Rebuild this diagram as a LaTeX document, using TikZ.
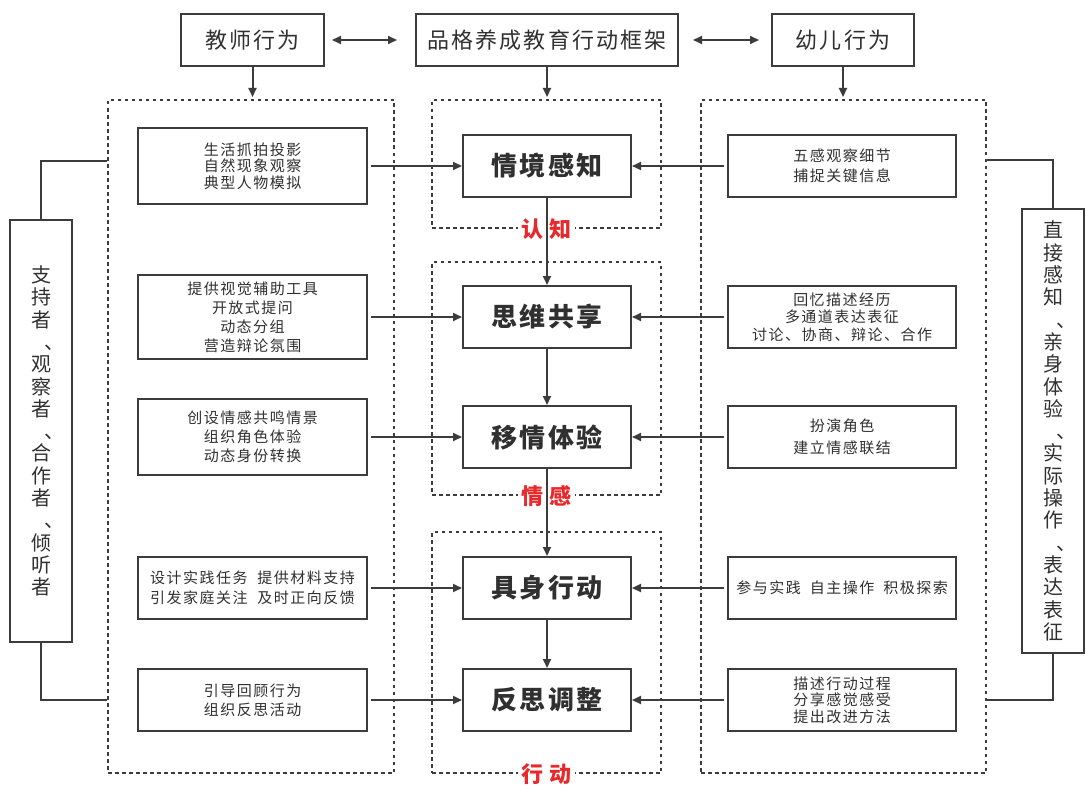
\documentclass[tikz,border=0pt]{standalone}
\usepackage{fontspec}
\setmainfont{Noto Sans CJK SC}[LetterSpace=10]
\newfontfamily\labfont{Noto Sans CJK SC}[LetterSpace=30]
\usetikzlibrary{arrows.meta,positioning}
\definecolor{boxline}{HTML}{3C3C3C}
\definecolor{boxtext}{HTML}{303030}
\definecolor{stagered}{HTML}{E8282B}
\newcommand{\vdun}{\makebox[1em][l]{\hspace{0.65em}、}}

\begin{document}
\begin{tikzpicture}[x=1pt,y=-1pt,
    box/.style={draw=boxline,line width=2pt,inner sep=0pt,align=center,text=boxtext},
    headbox/.style={box,minimum height=52pt,font=\fontsize{22}{26}\selectfont},
    stagebox/.style={box,minimum width=168pt,minimum height=62pt,font=\fontsize{26}{30}\selectfont\bfseries},
    tbox/.style={box,minimum width=229pt,font=\fontsize{15}{19}\selectfont},
    cbox/.style={box,minimum width=228pt,minimum height=62pt,font=\fontsize{15}{19}\selectfont},
    sidebox/.style={box,minimum width=62pt,font=\fontsize{20}{22.3}\selectfont},
    zone/.style={draw=boxline,line width=2pt,dash pattern=on 3.5pt off 3.5pt,inner sep=0pt},
    stagelabel/.style={fill=white,text=stagered,inner sep=3pt,font=\labfont\fontsize{22}{24}\selectfont\bfseries},
    arr/.style={draw=boxline,line width=2pt,-{Triangle[length=9pt,width=8pt]}},
    link/.style={draw=boxline,line width=2pt,{Triangle[length=9pt,width=8pt]}-{Triangle[length=9pt,width=8pt]}},
    wire/.style={draw=boxline,line width=2pt}]
  \fill[white] (0,0) rectangle (1086,789);
  \useasboundingbox (0,0) rectangle (1086,789);

  \node[headbox,minimum width=143pt] (teacher) at (252.5,40) {教师行为};
  \node[headbox,minimum width=262pt] (frame) at (547,40) {品格养成教育行动框架};
  \node[headbox,minimum width=142pt] (child) at (843,40) {幼儿行为};

  \node[zone,minimum width=286pt,minimum height=673pt] (tzone) at (251,436.5) {};
  \node[zone,minimum width=285pt,minimum height=673pt] (czone) at (843.5,436.5) {};
  \node[zone,minimum width=229pt,minimum height=128pt] (kzone) at (546.5,164) {};
  \node[zone,minimum width=229pt,minimum height=233pt] (qzone) at (546.5,378.5) {};
  \node[zone,minimum width=229pt,minimum height=241pt] (xzone) at (546.5,652.5) {};
  \node[stagelabel] (klab) at (kzone.south) {认知};
  \node[stagelabel] (qlab) at (qzone.south) {情感};
  \node[stagelabel] (xlab) at (xzone.south) {行动};

  \node[stagebox] (s1) at (547,166) {情境感知};
  \node[stagebox] (s2) at (547,317) {思维共享};
  \node[stagebox] (s3) at (547,437) {移情体验};
  \node[stagebox] (s4) at (547,588) {具身行动};
  \node[stagebox] (s5) at (547,700) {反思调整};

  \node[tbox,minimum height=76pt,font=\fontsize{15}{16.5}\selectfont] (t1) at (252.5,166) {生活抓拍投影\\自然现象观察\\典型人物模拟};
  \node[tbox,minimum height=84pt] (t2) at (252.5,317) {提供视觉辅助工具\\开放式提问\\动态分组\\营造辩论氛围};
  \node[tbox,minimum height=76pt] (t3) at (252.5,437) {创设情感共鸣情景\\组织角色体验\\动态身份转换};
  \node[tbox,minimum height=62pt,font=\fontsize{15}{20}\selectfont] (t4) at (252.5,588) {设计实践任务\hspace{10pt}提供材料支持\\引发家庭关注\hspace{10pt}及时正向反馈};
  \node[tbox,minimum height=62pt] (t5) at (252.5,700) {引导回顾行为\\组织反思活动};

  \node[cbox,font=\fontsize{15}{20}\selectfont] (c1) at (842,166) {五感观察细节\\捕捉关键信息};
  \node[cbox,font=\fontsize{15}{17.5}\selectfont] (c2) at (842,317) {回忆描述经历\\多通道表达表征\\讨论、协商、辩论、合作};
  \node[cbox,font=\fontsize{15}{22}\selectfont] (c3) at (842,437) {扮演角色\\建立情感联结};
  \node[cbox] (c4) at (842,588) {参与实践\hspace{9pt}自主操作\hspace{9pt}积极探索};
  \node[cbox,font=\fontsize{15}{16.5}\selectfont] (c5) at (842,700) {描述行动过程\\分享感觉感受\\提出改进方法};

  \node[sidebox,minimum height=422pt] (tside) at (41,431)
    {支\\持\\者\\\vdun\\观\\察\\者\\\vdun\\合\\作\\者\\\vdun\\倾\\听\\者};
  \node[sidebox,minimum height=444pt] (cside) at (1053,431)
    {直\\接\\感\\知\\\vdun\\亲\\身\\体\\验\\\vdun\\实\\际\\操\\作\\\vdun\\表\\达\\表\\征};

  \draw[link,shorten <=7pt,shorten >=18pt] (teacher) -- (frame);
  \draw[link,shorten <=14pt,shorten >=12pt] (frame) -- (child);
  \draw[arr,shorten >=2pt] (teacher) -- (teacher |- tzone.north);
  \draw[arr,shorten >=2pt] (frame) -- (frame |- kzone.north);
  \draw[arr,shorten >=2pt] (child) -- (child |- czone.north);

  \foreach \i in {1,...,5}{
    \draw[arr,shorten <=3pt] (t\i) -- (s\i);
    \draw[arr,shorten <=3pt] (c\i) -- (s\i);
  }
  \foreach \i/\j in {1/2,2/3,3/4,4/5}
    \draw[arr] (s\i) -- (s\j);

  \draw[wire] (tside.north) |- (tzone.west |- 0,161);
  \draw[wire] (tside.south) |- (tzone.west |- t5);
  \draw[wire] (cside.north) |- (czone.east |- 0,160);
  \draw[wire] (cside.south) |- (czone.east |- c5);
\end{tikzpicture}
\end{document}
